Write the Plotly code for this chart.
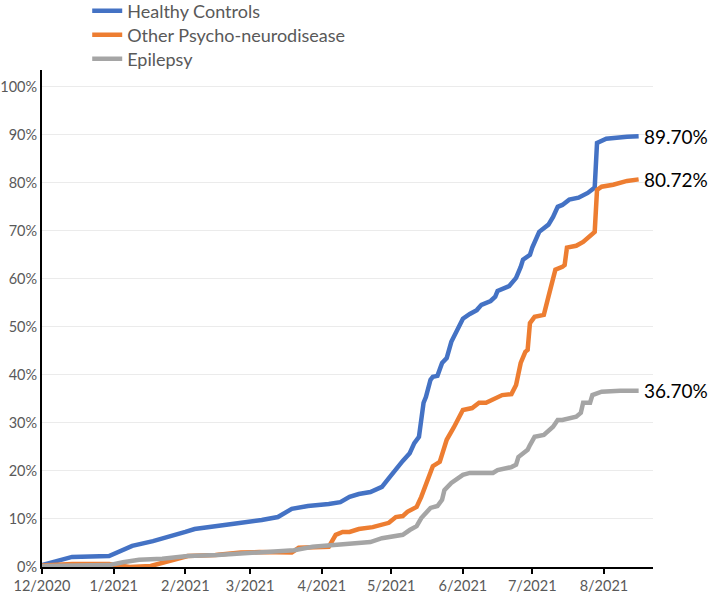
import plotly.graph_objects as go

# ---- data ----
series_names = ["Healthy Controls", "Other Psycho-neurodisease", "Epilepsy"]
series_colors = ["#4472C4", "#ED7D31", "#A5A5A5"]

hc_dates = ["2020-12-01", "2020-12-14", "2020-12-30", "2021-01-09", "2021-01-18", "2021-01-27",
            "2021-02-01", "2021-02-05", "2021-02-12", "2021-02-22", "2021-03-06", "2021-03-13",
            "2021-03-19", "2021-03-26", "2021-04-04", "2021-04-09", "2021-04-13", "2021-04-17",
            "2021-04-22", "2021-04-27", "2021-04-30", "2021-05-02", "2021-05-06", "2021-05-09",
            "2021-05-11", "2021-05-13", "2021-05-14", "2021-05-15", "2021-05-16", "2021-05-18",
            "2021-05-19", "2021-05-21", "2021-05-23", "2021-05-25", "2021-05-27", "2021-05-30",
            "2021-06-01", "2021-06-04", "2021-06-07", "2021-06-09", "2021-06-13", "2021-06-15",
            "2021-06-16", "2021-06-21", "2021-06-24", "2021-06-26", "2021-06-27", "2021-06-30",
            "2021-07-01", "2021-07-04", "2021-07-08", "2021-07-10", "2021-07-12", "2021-07-14",
            "2021-07-17", "2021-07-21", "2021-07-25", "2021-07-28", "2021-07-29", "2021-08-02",
            "2021-08-07", "2021-08-11", "2021-08-16"]
hc_values = [0.4, 2.1, 2.3, 4.4, 5.4, 6.5,
             7.3, 7.9, 8.3, 9.0, 9.8, 10.4,
             12.1, 12.7, 13.1, 13.5, 14.6, 15.2,
             15.6, 16.7, 18.5, 19.8, 22.1, 23.7,
             25.8, 27.1, 30.0, 34.2, 35.4, 39.0,
             39.6, 39.8, 42.5, 43.5, 46.9, 50.0,
             51.7, 52.7, 53.5, 54.6, 55.4, 56.3,
             57.5, 58.5, 60.2, 62.5, 64.0, 65.0,
             66.5, 69.8, 71.3, 72.9, 75.0, 75.4,
             76.5, 76.9, 77.9, 79.0, 88.3, 89.2,
             89.5, 89.6, 89.70]

op_dates = ["2020-12-01", "2020-12-14", "2020-12-30", "2021-01-08", "2021-01-17", "2021-01-25",
            "2021-02-02", "2021-02-14", "2021-02-25", "2021-03-05", "2021-03-19", "2021-03-22",
            "2021-04-04", "2021-04-07", "2021-04-10", "2021-04-13", "2021-04-17", "2021-04-23",
            "2021-04-30", "2021-05-03", "2021-05-06", "2021-05-08", "2021-05-12", "2021-05-14",
            "2021-05-18", "2021-05-19", "2021-05-22", "2021-05-25", "2021-05-28", "2021-06-01",
            "2021-06-05", "2021-06-08", "2021-06-11", "2021-06-16", "2021-06-18", "2021-06-22",
            "2021-06-24", "2021-06-26", "2021-06-28", "2021-06-29", "2021-06-30", "2021-07-02",
            "2021-07-06", "2021-07-08", "2021-07-11", "2021-07-14", "2021-07-15", "2021-07-16",
            "2021-07-20", "2021-07-23", "2021-07-26", "2021-07-28", "2021-07-29", "2021-07-31",
            "2021-08-05", "2021-08-11", "2021-08-16"]
op_values = [0.3, 0.6, 0.6, 0.0, 0.2, 1.2,
             2.3, 2.5, 3.0, 3.1, 3.0, 4.0,
             4.2, 6.7, 7.3, 7.3, 7.9, 8.3,
             9.2, 10.4, 10.6, 11.5, 12.5, 14.6,
             20.2, 21.0, 21.9, 26.5, 29.0, 32.7,
             33.1, 34.2, 34.2, 35.2, 35.8, 36.0,
             37.9, 42.5, 44.8, 45.2, 50.8, 52.1,
             52.5, 56.3, 61.9, 62.5, 62.9, 66.5,
             66.9, 67.7, 68.8, 69.8, 78.5, 79.2,
             79.6, 80.4, 80.72]

ep_dates = ["2020-12-01", "2020-12-30", "2021-01-05", "2021-01-12", "2021-01-22", "2021-02-02",
            "2021-02-15", "2021-03-01", "2021-03-07", "2021-03-20", "2021-03-28", "2021-04-08",
            "2021-04-13", "2021-04-22", "2021-04-27", "2021-05-02", "2021-05-06", "2021-05-09",
            "2021-05-12", "2021-05-14", "2021-05-16", "2021-05-18", "2021-05-21", "2021-05-23",
            "2021-05-24", "2021-05-27", "2021-06-01", "2021-06-04", "2021-06-14", "2021-06-16",
            "2021-06-22", "2021-06-24", "2021-06-25", "2021-06-29", "2021-06-30", "2021-07-02",
            "2021-07-06", "2021-07-08", "2021-07-10", "2021-07-12", "2021-07-14", "2021-07-20",
            "2021-07-22", "2021-07-23", "2021-07-26", "2021-07-27", "2021-07-31", "2021-08-08",
            "2021-08-16"]
ep_values = [0.2, 0.4, 1.0, 1.5, 1.7, 2.3,
             2.5, 2.9, 3.1, 3.5, 4.2, 4.6,
             5.0, 5.2, 6.0, 6.5, 6.7, 7.7,
             8.5, 10.2, 11.3, 12.3, 12.7, 14.0,
             16.0, 17.5, 19.2, 19.6, 19.6, 20.2,
             20.8, 21.3, 22.9, 24.4, 25.4, 27.1,
             27.5, 28.5, 29.2, 30.6, 30.6, 31.3,
             32.1, 34.2, 34.2, 35.8, 36.5, 36.7,
             36.70]

tick_dates = ["2020-12-01", "2021-01-01", "2021-02-01", "2021-03-01", "2021-04-01",
              "2021-05-01", "2021-06-01", "2021-07-01", "2021-08-01"]
tick_labels = ["12/2020", "1/2021", "2/2021", "3/2021", "4/2021",
               "5/2021", "6/2021", "7/2021", "8/2021"]

FONT = "Lato"
all_dates = [hc_dates, op_dates, ep_dates]
all_values = [hc_values, op_values, ep_values]
legend_ids = ["legend", "legend2", "legend3"]
legend_rows_y = [1.1187, 1.0704, 1.0222]

fig = go.Figure()
for name, color, xs, ys, lid in zip(series_names, series_colors, all_dates, all_values, legend_ids):
    fig.add_trace(go.Scatter(x=xs, y=ys, mode="lines", name=name, legend=lid,
                             line=dict(color=color, width=4.5)))
    fig.add_annotation(x=xs[-1], y=ys[-1], text=f"{ys[-1]:.2f}%", showarrow=False,
                       xanchor="left", yanchor="middle", xshift=3,
                       font=dict(family=FONT, size=19, color="#000000"))

legend_style = dict(x=0.074, xanchor="left", yanchor="middle",
                    font=dict(family=FONT, size=18, color="#595959"),
                    bgcolor="rgba(0,0,0,0)", itemwidth=30)
fig.update_layout(
    width=709, height=596,
    margin=dict(l=42, r=56, t=70, b=29, autoexpand=False),
    plot_bgcolor="white", paper_bgcolor="white",
    font=dict(family=FONT, color="#595959", size=14.5),
    showlegend=True,
    legend=dict(y=legend_rows_y[0], **legend_style),
    legend2=dict(y=legend_rows_y[1], **legend_style),
    legend3=dict(y=legend_rows_y[2], **legend_style),
)
fig.update_xaxes(
    type="date", range=["2020-12-01", "2021-08-22 05:00"],
    tickmode="array", tickvals=tick_dates, ticktext=tick_labels,
    showline=True, linecolor="#000000", linewidth=2,
    ticks="outside", ticklen=5, tickcolor="#000000", tickwidth=1.5,
    showgrid=False, zeroline=False, automargin=False,
    tickfont=dict(family=FONT, size=14.5, color="#595959"),
)
fig.update_yaxes(
    range=[0, 103.5], dtick=10, tick0=0, ticksuffix="%",
    showline=True, linecolor="#000000", linewidth=2,
    showgrid=True, gridcolor="#EBEBEB", gridwidth=1, zeroline=False,
    ticks="", automargin=False,
    tickfont=dict(family=FONT, size=14.5, color="#595959"),
)

fig.write_html("out.html", config={"displayModeBar": False},
               post_script="document.body.style.margin='0';")
